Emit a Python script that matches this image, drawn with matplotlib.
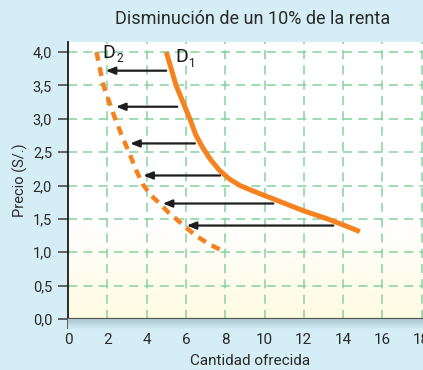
import numpy as np
import matplotlib
matplotlib.use("Agg")
import matplotlib.pyplot as plt
from matplotlib.colors import LinearSegmentedColormap

# ---- data ----
title = "Disminución de un 10% de la renta"
xlabel = "Cantidad ofrecida"
ylabel = "Precio (S/.)"
xticks = [0, 2, 4, 6, 8, 10, 12, 14, 16, 18]
yticks = [0.0, 0.5, 1.0, 1.5, 2.0, 2.5, 3.0, 3.5, 4.0]
ytick_labels = ["0,0", "0,5", "1,0", "1,5", "2,0", "2,5", "3,0", "3,5", "4,0"]

d1_q = [5.0, 5.25, 5.5, 5.85, 6.2, 6.5, 6.85, 7.25, 7.7, 8.2, 8.75, 9.4, 10.0,
        10.7, 11.3, 12.0, 13.2, 14.0, 14.85]
d1_p = [4.0, 3.75, 3.5, 3.25, 3.0, 2.76, 2.57, 2.39, 2.23, 2.1, 2.0, 1.92, 1.85,
        1.77, 1.7, 1.62, 1.5, 1.41, 1.31]
d2_q = [1.45, 1.8, 2.1, 2.4, 2.75, 3.1, 3.45, 3.8, 4.2, 4.7, 5.1, 5.5, 6.0, 6.55, 7.2, 8.0]
d2_p = [4.0, 3.5, 3.25, 3.0, 2.74, 2.5, 2.24, 2.02, 1.86, 1.72, 1.6, 1.5, 1.37, 1.24, 1.12, 1.0]

arrow_y = [3.72, 3.18, 2.63, 2.15, 1.73, 1.40]
arrow_from = [5.0, 5.56, 6.46, 7.74, 10.45, 13.5]
arrow_to = [1.92, 2.44, 3.16, 3.83, 4.82, 6.04]

curve_names = ["D", "D"]
curve_subs = ["1", "2"]

# ---- style ----
BG = "#d5edf5"
ORANGE = "#f5821f"
GRID = "#86d2a2"
FONT = "Roboto"
plt.rcParams["font.family"] = [FONT, "DejaVu Sans"]

W, H = 423, 370
fig = plt.figure(figsize=(W / 100, H / 100), dpi=100, facecolor=BG)

left_px, bottom_px, top_px = 68, 319, 42
ax = fig.add_axes([left_px / W, (H - bottom_px) / H, 1 - left_px / W, (bottom_px - top_px) / H])
ax.set_xlim(0, (W - left_px) / 19.65)
ax.set_ylim(0, 4.0 + (52 - top_px) / 66.75)

# background gradient (white -> light yellow at bottom)
grad = np.linspace(0, 1, 256).reshape(-1, 1)
cmap = LinearSegmentedColormap.from_list("bgg", [(0, "#fffbe2"), (0.35, "#ffffff"), (1, "#ffffff")])
ax.imshow(grad, extent=[0, 1, 0, 1], transform=ax.transAxes, cmap=cmap,
          aspect="auto", origin="lower", zorder=0)

# shadow below bottom spine
sh_h = 10 / H
sax = fig.add_axes([left_px / W, (H - bottom_px) / H - sh_h, 1 - left_px / W, sh_h])
sax.axis("off")
scmap = LinearSegmentedColormap.from_list("sh", [BG, "#a8c4ce"])
sax.imshow(grad, extent=[0, 1, 0, 1], cmap=scmap, aspect="auto", origin="lower")
sax.set_xlim(0, 1); sax.set_ylim(0, 1)

# grid
for x in xticks[1:]:
    ax.axvline(x, color=GRID, lw=1.1, ls=(0, (6, 4)), zorder=1)
for y in yticks[1:]:
    ax.axhline(y, color=GRID, lw=1.1, ls=(0, (6, 4)), zorder=1)

# curves
ax.plot(d1_q, d1_p, color=ORANGE, lw=3.6, solid_capstyle="butt",
        solid_joinstyle="round", zorder=4)
ax.plot(d2_q, d2_p, color=ORANGE, lw=3.2, ls=(0, (2.0, 1.5)), dash_capstyle="butt", zorder=4)

# arrows
for y, x0, x1 in zip(arrow_y, arrow_from, arrow_to):
    ax.annotate("", xy=(x1, y), xytext=(x0, y),
                arrowprops=dict(arrowstyle="-|>,head_length=0.55,head_width=0.22",
                                color="#1e1e1e", lw=1.6, shrinkA=0, shrinkB=0),
                zorder=5)

# curve labels
ax.text(5.45, 3.845, curve_names[0], fontsize=14, color="#1a1a1a", ha="left", va="baseline", zorder=6)
ax.text(6.15, 3.78, curve_subs[0], fontsize=8.5, color="#1a1a1a", ha="left", va="baseline", zorder=6)
ax.text(1.77, 3.915, curve_names[1], fontsize=14, color="#1a1a1a", ha="left", va="baseline", zorder=6)
ax.text(2.49, 3.855, curve_subs[1], fontsize=8.5, color="#1a1a1a", ha="left", va="baseline", zorder=6)

# axes styling
for s in ["top", "right"]:
    ax.spines[s].set_visible(False)
ax.spines["left"].set_color("#1a1a1a")
ax.spines["left"].set_linewidth(1.3)
ax.spines["bottom"].set_color("#555555")
ax.spines["bottom"].set_linewidth(1.6)
ax.set_xticks(xticks)
ax.set_xticklabels([str(v) for v in xticks], fontsize=11, color="#2a2a2a")
ax.set_yticks(yticks)
ax.set_yticklabels(ytick_labels, fontsize=10.5, color="#2a2a2a")
ax.tick_params(axis="y", length=7, width=1.3, color="#555555", pad=4.5)
ax.tick_params(axis="x", length=7, width=1.3, color="#555555", pad=3)

ax.set_ylabel(ylabel, fontsize=10.5, color="#2a2a2a", labelpad=3)
fig.text(250 / W, 1 - 361 / H, xlabel, fontsize=11, color="#2a2a2a", ha="center", va="center")
fig.text(253 / W, 1 - 19 / H, title, fontsize=13, color="#2a2a2a", ha="center", va="center")

fig.savefig("out.png", dpi=100, facecolor=BG)
